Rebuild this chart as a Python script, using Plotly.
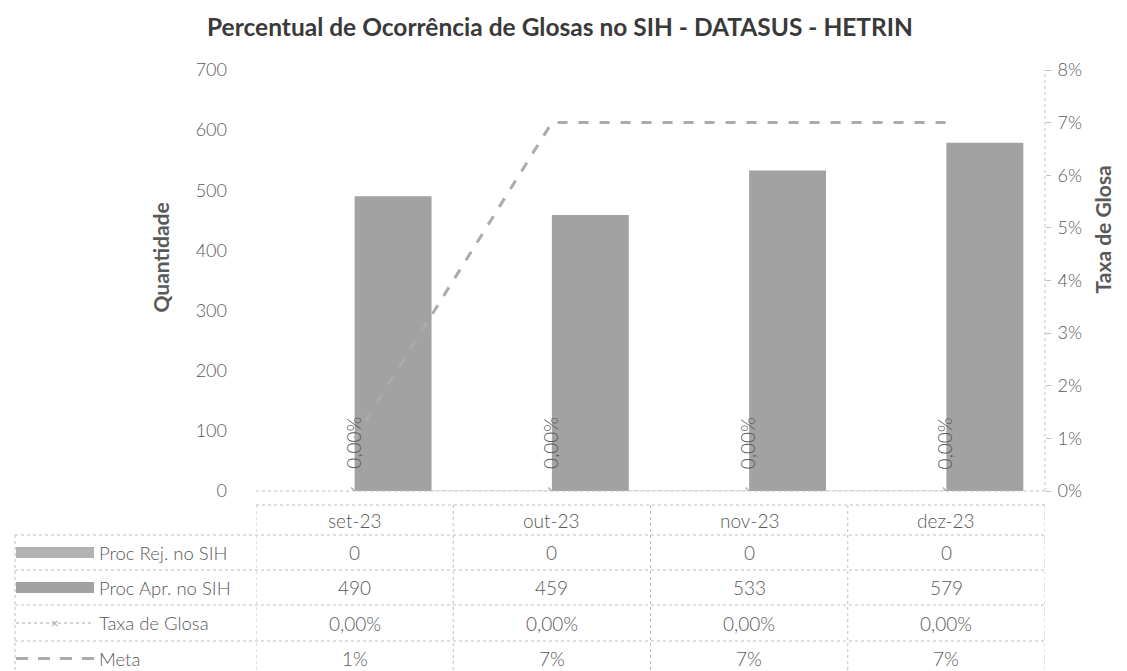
import plotly.graph_objects as go

# ---- data ----
categories = ["set-23", "out-23", "nov-23", "dez-23"]
proc_rej = [0, 0, 0, 0]
proc_apr = [490, 459, 533, 579]
taxa_glosa = [0.0, 0.0, 0.0, 0.0]
meta = [0.01, 0.07, 0.07, 0.07]
series_names = ["Proc Rej. no SIH", "Proc Apr. no SIH", "Taxa de Glosa", "Meta"]
y_ticks = [0, 100, 200, 300, 400, 500, 600, 700]
y2_ticks = [0, 0.01, 0.02, 0.03, 0.04, 0.05, 0.06, 0.07, 0.08]

FONT = "Lato"
TXT = "#595959"
GRID = "#bfbfbf"
BAR_REJ = "#b3b3b3"
BAR_APR = "#a2a2a2"
LINE = "#a6a6a6"

W, H = 1127, 671
L, R, T, B = 248, 1037, 62, 483


def px(x):
    return (x - L) / (R - L)


def py(y):
    return (B - y) / (B - T)


def pct2(v):
    return f"{v*100:.2f}%".replace(".", ",")


def pct0(v):
    return f"{v*100:.0f}%"


fig = go.Figure()
fig.add_trace(go.Bar(x=categories, y=proc_rej, name=series_names[0],
                     marker=dict(color=BAR_REJ, line=dict(width=0))))
fig.add_trace(go.Bar(x=categories, y=proc_apr, name=series_names[1],
                     marker=dict(color=BAR_APR, line=dict(width=0))))
fig.add_trace(go.Scatter(x=categories, y=taxa_glosa, name=series_names[2], yaxis="y2",
                         mode="lines+markers",
                         line=dict(color=LINE, width=1, dash="dot"),
                         marker=dict(symbol="x-thin", size=7, line=dict(color=LINE, width=1.2))))
fig.add_trace(go.Scatter(x=categories, y=meta, name=series_names[3], yaxis="y2",
                         mode="lines",
                         line=dict(color="#ababab", width=3, dash="10px,11px")))

annotations = []
# data labels for Taxa de Glosa (rotated)
for c, v in zip(categories, taxa_glosa):
    annotations.append(dict(x=c, y=v, xref="x", yref="y2", text=pct2(v), showarrow=False,
                            textangle=-90, yanchor="bottom", xanchor="center", yshift=20,
                            xshift=-2,
                            font=dict(family=FONT, size=19, color=TXT, weight=300)))

# ---- data table ----
row_edges = [497, 527, 562, 597, 633, 668]
shapes = []
dot = dict(color=GRID, width=1, dash="dot")
shapes.append(dict(type="line", xref="paper", yref="paper", x0=px(L), x1=px(R),
                   y0=py(row_edges[0]), y1=py(row_edges[0]), line=dot))
for ye in row_edges[1:]:
    shapes.append(dict(type="line", xref="paper", yref="paper", x0=px(7), x1=px(R),
                       y0=py(ye), y1=py(ye), line=dot))
shapes.append(dict(type="line", xref="paper", yref="paper", x0=px(7), x1=px(7),
                   y0=py(row_edges[1]), y1=py(row_edges[-1]), line=dot))
for i in range(len(categories) + 1):
    shapes.append(dict(type="line", xref="x", yref="paper", x0=i - 0.5, x1=i - 0.5,
                       y0=py(row_edges[0]), y1=py(row_edges[-1]), line=dot))
# axis lines (dotted)
shapes.append(dict(type="line", xref="paper", yref="paper", x0=0, x1=1, y0=0, y1=0, line=dot))
shapes.append(dict(type="line", xref="paper", yref="paper", x0=1, x1=1, y0=0, y1=1, line=dot))

centers = [(row_edges[i] + row_edges[i + 1]) / 2 for i in range(len(row_edges) - 1)]
tfont = dict(family=FONT, size=19, color=TXT, weight=300)
lfont = dict(family=FONT, size=18.5, color=TXT, weight=300)
for c in categories:
    annotations.append(dict(x=c, y=py(centers[0]), xref="x", yref="paper", text=c,
                            showarrow=False, font=tfont, yanchor="middle"))
rows = [
    [str(v) for v in proc_rej],
    [str(v) for v in proc_apr],
    [pct2(v) for v in taxa_glosa],
    [pct0(v) for v in meta],
]
for r, vals in enumerate(rows):
    yc = py(centers[r + 1])
    for c, t in zip(categories, vals):
        annotations.append(dict(x=c, y=yc, xref="x", yref="paper", text=t,
                                showarrow=False, font=tfont, yanchor="middle"))
    annotations.append(dict(x=px(89), y=yc, xref="paper", yref="paper", text=series_names[r],
                            showarrow=False, font=lfont, xanchor="left", yanchor="middle"))

# legend keys in table
sw_x0, sw_x1 = 8, 86
for r, col in enumerate([BAR_REJ, BAR_APR]):
    yc = centers[r + 1]
    shapes.append(dict(type="rect", xref="paper", yref="paper", x0=px(sw_x0), x1=px(sw_x1),
                       y0=py(yc + 5.5), y1=py(yc - 5.5), fillcolor=col, line=dict(width=0)))
yc = centers[3]
shapes.append(dict(type="line", xref="paper", yref="paper", x0=px(sw_x0), x1=px(sw_x1),
                   y0=py(yc), y1=py(yc), line=dict(color=LINE, width=1, dash="dot")))
yc = centers[4]
shapes.append(dict(type="line", xref="paper", yref="paper", x0=px(sw_x0), x1=px(sw_x1),
                   y0=py(yc), y1=py(yc), line=dict(color="#ababab", width=3, dash="12px,10px")))
annotations.append(dict(x=px((sw_x0 + sw_x1) / 2), y=py(centers[3]), xref="paper", yref="paper",
                        text="×", showarrow=False, font=dict(family=FONT, size=13, color=LINE),
                        xanchor="center", yanchor="middle"))

# axis titles
annotations.append(dict(x=px(137), y=py(250), xref="paper", yref="paper", text="<b>Quantidade</b>",
                        textangle=-90, showarrow=False, font=dict(family=FONT, size=21, color=TXT)))
annotations.append(dict(x=px(1108), y=py(222), xref="paper", yref="paper", text="<b>Taxa de Glosa</b>",
                        textangle=-90, showarrow=False, font=dict(family=FONT, size=21, color=TXT)))

fig.update_layout(
    width=W, height=H,
    margin=dict(l=L, r=W - R, t=T, b=H - B, pad=0),
    paper_bgcolor="white", plot_bgcolor="white",
    showlegend=False,
    barmode="group", bargap=0.22, bargroupgap=0,
    title=dict(text="<b>Percentual de Ocorrência de Glosas no SIH - DATASUS - HETRIN</b>",
               x=552 / W, xanchor="center", y=1 - 19 / H, yanchor="middle",
               font=dict(family=FONT, size=24.5, color="#3a3a3a")),
    xaxis=dict(type="category", range=[-0.5, 3.5], showticklabels=False, showgrid=False,
               showline=False, zeroline=False, ticks=""),
    yaxis=dict(range=[0, 700], tickvals=y_ticks, showgrid=False, zeroline=False, showline=False,
               ticks="", ticklabelstandoff=28,
               tickfont=dict(family=FONT, size=18, color=TXT, weight=300)),
    yaxis2=dict(range=[0, 0.08], tickvals=y2_ticks, tickformat=".0%", overlaying="y", side="right",
                showgrid=False, zeroline=False, showline=False, ticks="outside", ticklen=5,
                tickcolor=GRID, ticklabelstandoff=3,
                tickfont=dict(family=FONT, size=18, color=TXT, weight=300)),
    shapes=shapes,
    annotations=annotations,
)

fig.write_html("out.html")
